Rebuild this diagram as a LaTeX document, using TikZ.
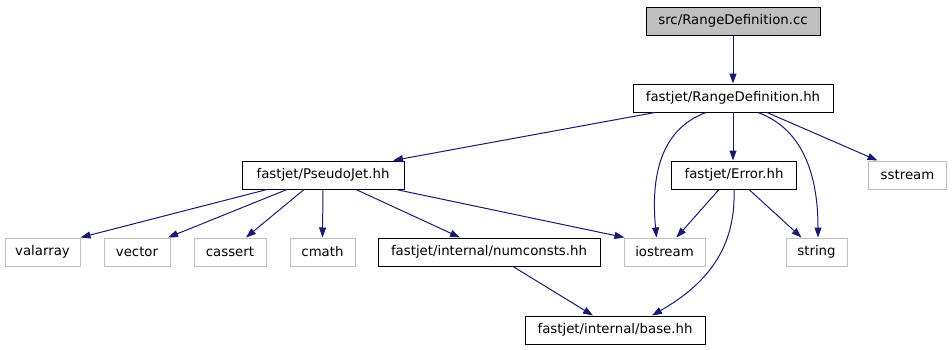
\documentclass[tikz,border=0pt]{standalone}
\usepackage{fontspec}
\setmainfont{DejaVu Sans}
\definecolor{edgeBlue}{RGB}{25,25,112}
\definecolor{sysGray}{RGB}{191,191,191}
\usetikzlibrary{arrows.meta,positioning}

\begin{document}
\begin{tikzpicture}[x=1pt, y=-1pt,
    file/.style={draw=black, line width=1pt, minimum height=28pt, inner sep=0pt,
      font=\fontsize{13.3}{16}\selectfont},
    sys/.style={file, draw=sysGray},
    dep/.style={draw=edgeBlue, line width=1pt, -{Triangle[length=10pt,width=7pt]}}
  ]
  \useasboundingbox (0,0) rectangle (952,349);
  % files
  \node[file, fill=sysGray, minimum width=174pt] (src) at (733,21) {src/RangeDefinition.cc};
  \node[file, minimum width=200pt] (rd) at (733,98) {fastjet/RangeDefinition.hh};
  \node[file, minimum width=162pt] (pj) at (323,175) {fastjet/PseudoJet.hh};
  \node[file, minimum width=125pt] (err) at (734,175) {fastjet/Error.hh};
  \node[sys, minimum width=78pt] (ss) at (907.5,175) {sstream};
  \node[sys, minimum width=75pt] (va) at (42.5,252) {valarray};
  \node[sys, minimum width=66pt] (vec) at (137,252) {vector};
  \node[sys, minimum width=72pt] (cas) at (230,252) {cassert};
  \node[sys, minimum width=65pt] (cm) at (322.5,252) {cmath};
  \node[file, minimum width=222pt] (nc) at (489,252) {fastjet/internal/numconsts.hh};
  \node[sys, minimum width=81pt] (io) at (664.5,252) {iostream};
  \node[sys, minimum width=61pt] (str) at (816.5,252) {string};
  \node[file, minimum width=180pt] (base) at (615,330) {fastjet/internal/base.hh};
  % includes
  \draw[dep] (src.south) -- (rd.north);
  \draw[dep] ([xshift=-78pt]rd.south) -- ([xshift=70pt]pj.north);
  \draw[dep] ([xshift=-27pt]rd.south) .. controls (664,128) and (650,170) .. ([xshift=-8pt]io.north);
  \draw[dep] (rd.south) -- ([xshift=-1pt]err.north);
  \draw[dep] ([xshift=25pt]rd.south) .. controls (800,128) and (818,170) .. ([xshift=1.5pt]str.north);
  \draw[dep] ([xshift=34pt]rd.south) -- ([xshift=-30pt]ss.north);
  \draw[dep] ([xshift=-56pt]pj.south) -- (va.north east);
  \draw[dep] ([xshift=-36pt]pj.south) -- ([xshift=31pt]vec.north);
  \draw[dep] ([xshift=-19pt]pj.south) -- ([xshift=16pt]cas.north);
  \draw[dep] (pj.south) -- (cm.north);
  \draw[dep] ([xshift=33pt]pj.south) -- ([xshift=-29pt]nc.north);
  \draw[dep] ([xshift=73pt]pj.south) -- ([xshift=1pt]io.north west);
  \draw[dep] ([xshift=-15pt]err.south) -- ([xshift=12pt]io.north);
  \draw[dep] ([xshift=15pt]err.south) -- ([xshift=-15pt]str.north);
  \draw[dep] (err.south) .. controls (736,250) and (705,285) .. ([xshift=37pt]base.north);
  \draw[dep] ([xshift=24pt]nc.south) -- ([xshift=-22pt]base.north);
\end{tikzpicture}
\end{document}
